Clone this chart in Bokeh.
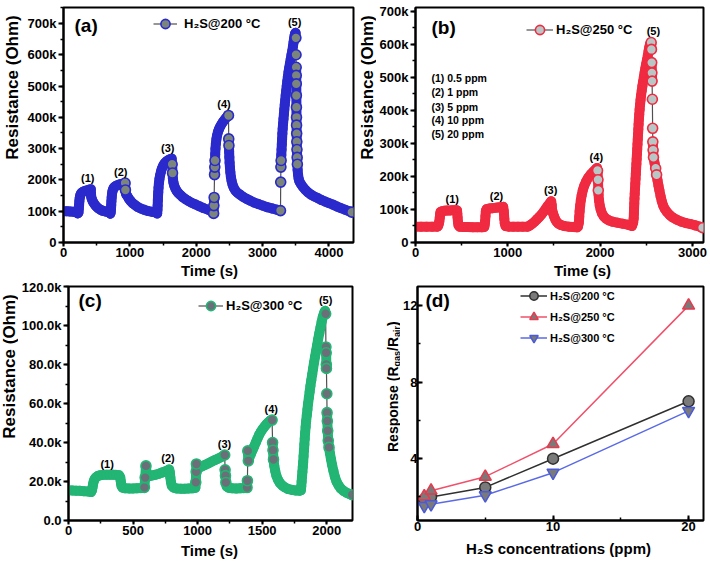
import numpy as np
from bokeh.plotting import figure
from bokeh.layouts import row, column
from bokeh.models import (Range1d, SingleIntervalTicker, NumeralTickFormatter,
                          Label, Legend, LegendItem)
from bokeh.embed import file_html
from bokeh.resources import INLINE
from bokeh.core.properties import value

# ---------------- data (time in s, resistance in kOhm) ----------------
curve_a = [
    (0, 100), (50, 100), (100, 99), (150, 98), (190, 97), (205, 96), (216, 93), (226, 96),
    (231, 108), (235, 120), (239, 132), (244, 142), (251, 150), (261, 156), (277, 160), (300, 163),
    (330, 165), (360, 167), (390, 169), (412, 170),
    (416, 150), (420, 143), (430, 137), (445, 130), (465, 123), (490, 116), (520, 110), (555, 105),
    (595, 101), (640, 99), (680, 97),
    (695, 95), (705, 92), (712, 97), (716, 108), (719, 120), (722, 132), (726, 144), (731, 155),
    (738, 164), (748, 171), (762, 176), (782, 180), (810, 183), (840, 185), (870, 187), (900, 188), (928, 190),
    (933, 168), (937, 160), (945, 154), (963, 148), (985, 140), (1010, 133), (1040, 126), (1075, 120),
    (1115, 114), (1160, 109), (1210, 105), (1270, 101), (1335, 98), (1400, 96),
    (1412, 93), (1416, 105), (1419, 118), (1422, 135), (1425, 150), (1428, 161), (1432, 175), (1438, 190),
    (1446, 203), (1456, 215), (1468, 226), (1482, 236), (1500, 245), (1520, 252), (1545, 258), (1575, 263),
    (1605, 266), (1630, 268), (1637, 250),
    (1643, 222), (1648, 205), (1656, 192), (1668, 182), (1685, 173), (1705, 165), (1730, 158), (1760, 152),
    (1795, 145), (1835, 139), (1880, 133), (1930, 127), (1985, 122), (2045, 116), (2110, 110), (2175, 105), (2240, 100),
    (2262, 93), (2266, 118), (2270, 144), (2276, 217), (2280, 241), (2283, 262), (2286, 282), (2290, 300),
    (2296, 316), (2304, 330), (2314, 342), (2327, 353), (2342, 362), (2360, 370), (2380, 378), (2402, 385),
    (2426, 392), (2452, 399), (2478, 404), (2486, 406),
    (2490, 331), (2493, 310), (2496, 290), (2499, 273), (2503, 255), (2508, 240), (2514, 225), (2522, 210),
    (2533, 197), (2547, 185), (2565, 175), (2590, 166), (2620, 159), (2660, 153), (2705, 146), (2755, 140),
    (2810, 134), (2870, 128), (2935, 123), (3000, 118), (3070, 113), (3140, 109), (3210, 105), (3265, 103),
    (3270, 102), (3273, 193), (3276, 241), (3279, 262), (3282, 280), (3286, 297), (3290, 314), (3294, 331),
    (3298, 348), (3303, 364), (3309, 380), (3315, 395), (3321, 410), (3327, 425), (3334, 440), (3341, 455),
    (3348, 470), (3356, 485), (3364, 500), (3372, 515), (3381, 530), (3391, 545), (3401, 558), (3412, 572),
    (3424, 586), (3436, 600), (3448, 613), (3458, 627), (3467, 640), (3475, 652), (3483, 662), (3491, 668),
    (3497, 670), (3502, 654),
    (3504, 600), (3506, 560), (3507, 534), (3508, 507), (3509, 470), (3510, 432), (3511, 400), (3512, 375),
    (3514, 348), (3516, 322), (3518, 297), (3521, 272), (3524, 250), (3528, 232), (3535, 216), (3543, 204),
    (3555, 195), (3580, 186), (3610, 177), (3645, 168), (3685, 160), (3730, 153), (3780, 147), (3830, 142),
    (3885, 136), (3940, 131), (4000, 126), (4060, 121), (4120, 115), (4180, 110), (4240, 105), (4300, 100), (4345, 97),
]
label_t_a = [365, 862, 1571, 2418, 3483]

curve_b = [
    (0, 48), (60, 48), (120, 48), (180, 48), (235, 48), (245, 50), (252, 56), (258, 64), (263, 75),
    (267, 86), (272, 93), (290, 95), (315, 96), (345, 97), (375, 97), (405, 98), (435, 98), (450, 97),
    (453, 87), (456, 76), (460, 63), (466, 52), (478, 48), (520, 47), (570, 47), (620, 46), (670, 46), (720, 46),
    (745, 47), (750, 55), (754, 65), (758, 80), (762, 95), (770, 101), (800, 103), (830, 104), (860, 105),
    (890, 106), (920, 107), (950, 108), (956, 96), (959, 86), (962, 72), (967, 58), (976, 50), (1010, 48),
    (1060, 48), (1110, 48), (1160, 48), (1215, 48), (1240, 52), (1265, 57), (1290, 63), (1315, 70), (1340, 77),
    (1365, 85), (1390, 94), (1412, 103), (1432, 111), (1452, 118), (1470, 125), (1476, 113), (1479, 101),
    (1488, 90), (1500, 80), (1513, 71), (1528, 63), (1548, 57), (1575, 53), (1610, 50), (1660, 48), (1710, 47),
    (1750, 46), (1760, 48), (1765, 55), (1770, 62), (1774, 78), (1778, 95), (1784, 112), (1791, 128),
    (1800, 143), (1812, 158), (1828, 172), (1848, 185), (1872, 197), (1900, 207), (1928, 215), (1952, 222),
    (1966, 226), (1972, 218), (1977, 190), (1980, 158), (1983, 146), (1988, 128), (1996, 112), (2006, 100),
    (2020, 88), (2040, 79), (2065, 72), (2095, 67), (2135, 63), (2185, 60), (2240, 57), (2300, 54), (2345, 50),
    (2358, 60), (2364, 73), (2366, 88), (2368, 103), (2370, 118), (2372, 133), (2375, 148), (2378, 163),
    (2381, 178), (2384, 193), (2387, 208), (2390, 223), (2393, 238), (2396, 253), (2399, 268), (2402, 283),
    (2405, 298), (2408, 313), (2411, 328), (2414, 343), (2417, 358), (2420, 373), (2424, 388), (2428, 403),
    (2433, 418), (2438, 432), (2444, 446), (2451, 460), (2458, 474), (2466, 488), (2474, 502), (2482, 515),
    (2490, 528), (2499, 541), (2508, 554), (2517, 567), (2525, 580), (2532, 591), (2540, 600), (2548, 605),
    (2553, 606), (2556, 585), (2559, 545), (2561, 514), (2563, 489), (2566, 434), (2569, 346), (2571, 305),
    (2574, 280), (2578, 258), (2590, 240), (2602, 225), (2612, 205), (2622, 188), (2632, 172), (2642, 158),
    (2655, 140), (2668, 125), (2683, 112), (2700, 102), (2725, 92), (2755, 83), (2785, 76), (2830, 69),
    (2880, 63), (2930, 59), (2980, 56), (3030, 52), (3080, 48), (3110, 45),
]
label_t_b = [398, 878, 1464, 1959, 2577]

curve_c = [
    (0, 15.5), (30, 15.4), (60, 15.3), (90, 15.2), (120, 15.0), (150, 14.9), (175, 14.6), (182, 15.5),
    (186, 17.0), (190, 18.5), (195, 20.0), (202, 21.2), (212, 22.1), (225, 22.8), (245, 23.2), (270, 23.4),
    (295, 23.5), (320, 23.5), (345, 23.5), (370, 23.4), (392, 23.2), (401, 22.1), (404, 20.5), (407, 19.0),
    (411, 17.6), (420, 16.8), (440, 16.5), (470, 16.4), (500, 16.4), (530, 16.5), (560, 16.6), (588, 17.0),
    (594, 22.0), (600, 28.0), (604, 25.0), (610, 23.0), (625, 22.8), (650, 23.1), (675, 23.5), (700, 24.0),
    (725, 24.6), (750, 25.2), (772, 25.8), (780, 26.2), (785, 24.7), (789, 22.1), (794, 19.6), (800, 17.8),
    (815, 16.8), (840, 16.4), (870, 16.3), (900, 16.3), (930, 16.4), (960, 16.5), (983, 16.8), (986, 19.6),
    (989, 25.0), (991, 29.0), (995, 26.5), (1010, 27.0), (1035, 27.8), (1060, 28.6), (1085, 29.4), (1110, 30.2),
    (1135, 31.0), (1160, 31.8), (1185, 32.6), (1205, 33.3), (1210, 33.6), (1213, 26.0), (1216, 23.0),
    (1219, 19.5), (1225, 17.5), (1240, 16.8), (1270, 16.5), (1300, 16.4), (1330, 16.5), (1360, 16.6),
    (1383, 16.9), (1386, 20.4), (1389, 35.7), (1393, 30.6), (1400, 32.0), (1412, 34.0), (1425, 36.0),
    (1438, 38.0), (1451, 40.0), (1464, 42.0), (1477, 44.0), (1490, 45.5), (1505, 47.0), (1520, 48.3),
    (1535, 49.5), (1550, 50.5), (1565, 51.3), (1577, 51.5), (1581, 40.0), (1584, 36.0), (1588, 31.3),
    (1594, 28.0), (1601, 25.5), (1610, 23.0), (1622, 21.0), (1637, 19.3), (1655, 18.0), (1675, 17.0),
    (1700, 16.2), (1730, 15.7), (1760, 15.4), (1790, 15.3), (1800, 15.5), (1803, 17.5), (1806, 20.0),
    (1809, 22.5), (1812, 25.0), (1815, 27.5), (1818, 30.0), (1821, 33.0), (1824, 36.0), (1827, 39.0),
    (1830, 42.0), (1833, 45.0), (1837, 48.0), (1841, 51.0), (1846, 54.0), (1851, 57.0), (1856, 60.0),
    (1862, 63.0), (1868, 66.0), (1874, 69.0), (1881, 72.0), (1888, 75.0), (1895, 78.0), (1902, 81.0),
    (1910, 84.0), (1918, 87.0), (1926, 90.0), (1934, 93.0), (1943, 96.0), (1952, 99.0), (1961, 102.0),
    (1970, 104.5), (1980, 106.5), (1988, 107.5), (1992, 106.0), (1994, 89.0), (1996, 86.0), (1997, 80.0),
    (1998, 78.0), (2001, 65.0), (2003, 55.3), (2005, 51.0), (2008, 46.0), (2012, 41.0), (2018, 37.5),
    (2025, 34.5), (2033, 31.5), (2042, 28.5), (2052, 25.5), (2063, 22.5), (2076, 20.0), (2092, 18.0),
    (2110, 16.3), (2130, 15.2), (2155, 14.2), (2180, 13.5), (2198, 13.2),
]
label_t_c = [299, 771, 1208, 1571, 1992]

pulse_labels = ["(1)", "(2)", "(3)", "(4)", "(5)"]
conc_ppm = [0.5, 1, 5, 10, 20]
resp_200 = [1.87, 2.0, 2.5, 4.0, 7.0]
resp_250 = [2.04, 2.33, 3.06, 4.77, 12.0]
resp_300 = [1.53, 1.62, 2.09, 3.27, 6.5]

FONT = "Liberation Sans"
LINE_GRAY = "#505050"
YLAB = "17px"


def style_axes(p, tick_in=False):
    for ax in (p.xaxis[0], p.yaxis[0]):
        ax.axis_line_width = 2
        ax.axis_line_color = "black"
        ax.major_tick_line_width = 2
        ax.minor_tick_line_width = 1.5
        if tick_in:
            ax.major_tick_in, ax.major_tick_out = 5, 0
            ax.minor_tick_in, ax.minor_tick_out = 3, 0
        else:
            ax.major_tick_in, ax.major_tick_out = 0, 5
            ax.minor_tick_in, ax.minor_tick_out = 0, 3
        ax.major_label_text_font = FONT
        ax.major_label_text_font_style = "bold"
        ax.major_label_text_font_size = "13px"
        ax.major_label_text_color = "black"
    if not tick_in:
        p.xaxis[0].major_tick_out = 4
    p.xaxis[0].major_label_standoff = 1
    p.yaxis[0].major_label_standoff = 2


def make_fig(w, h, xr, yr, mbl, mbr, mbt, mbb):
    p = figure(width=w, height=h, x_range=Range1d(*xr), y_range=Range1d(*yr),
               output_backend="svg", toolbar_location=None,
               min_border_left=mbl, min_border_right=mbr,
               min_border_top=mbt, min_border_bottom=mbb)
    p.grid.visible = False
    p.outline_line_color = "black"
    p.outline_line_width = 2
    p.background_fill_color = "white"
    p.border_fill_color = "white"
    return p


def text_fig(w, h):
    f = figure(width=w, height=h, x_range=Range1d(0, 1), y_range=Range1d(0, 1),
               x_axis_type=None, y_axis_type=None, output_backend="svg",
               toolbar_location=None, min_border=0, min_border_left=0,
               min_border_right=0, min_border_top=0, min_border_bottom=0)
    f.outline_line_color = None
    f.background_fill_color = "white"
    f.border_fill_color = "white"
    return f


def add_text(p, txt, x, y, size, align="left", baseline="middle", angle=0.0):
    p.add_layout(Label(x=x, y=y, x_units="screen", y_units="screen", text=txt,
                       text_font=FONT, text_font_style="bold", text_font_size=size,
                       text_color="black", text_align=align, text_baseline=baseline,
                       angle=angle))


def transient_panel(p, curve, label_t, color, fill, legend_txt, leg_x, leg_top, glyph_w,
                    standoff, fw, fh, xr, yr):
    t = np.array([c[0] for c in curve], dtype=float)
    r = np.array([c[1] for c in curve], dtype=float) * 1000.0
    sx = fw / (xr[1] - xr[0])
    sy = fh / (yr[1] - yr[0])
    d = np.hypot(np.diff(t) * sx, np.diff(r) * sy)      # on-screen step between samples
    ln = p.line(t, r, line_color=LINE_GRAY, line_width=1.2)
    close = d <= 12
    # dense samples merge into a solid band of overlapping markers
    p.segment(x0=t[:-1][close], y0=r[:-1][close], x1=t[1:][close], y1=r[1:][close],
              line_color=color, line_width=10, line_cap="round")
    far = d > 6.5
    iso = np.r_[False, far] | np.r_[far, True]
    sc = p.scatter(t[iso], r[iso], marker="circle", size=10,
                   line_color=color, line_width=1.6, fill_color=fill)
    ys = []
    for lt in label_t:
        m = np.abs(t - lt) < 150
        ys.append(r[m].max())
    p.text(x=label_t, y=ys, text=pulse_labels, text_font=value(FONT), text_font_style="bold",
           text_font_size="11px", text_align="center", text_baseline="middle",
           y_offset=-11, text_color="black")
    gh = 23
    leg = Legend(items=[LegendItem(label=legend_txt, renderers=[ln, sc])],
                 location=(leg_x, fh - leg_top - gh), orientation="vertical",
                 border_line_color=None, background_fill_alpha=0, padding=0, margin=0,
                 glyph_width=glyph_w, glyph_height=gh, label_height=gh, label_standoff=standoff,
                 label_text_font=FONT, label_text_font_style="bold", label_text_font_size="13px",
                 label_text_color="black")
    p.add_layout(leg)


# ---------------- geometry (page pixels) ----------------
H_R1, H_X1, H_R2, H_X2 = 262, 17, 262, 19

# ---------------- panel (a) ----------------
xr_a, yr_a = (0, 4370), (0, 751000)
mbt, mbb = 7, 20
pa = make_fig(333, H_R1, xr_a, yr_a, 41, 2, mbt, mbb)
fw_a, fh_a = 333 - 41 - 2, H_R1 - mbt - mbb
style_axes(pa)
pa.xaxis[0].ticker = SingleIntervalTicker(interval=1000, num_minor_ticks=2)
pa.yaxis[0].ticker = SingleIntervalTicker(interval=100000, num_minor_ticks=2)
pa.yaxis[0].formatter = NumeralTickFormatter(format="0a")
transient_panel(pa, curve_a, label_t_a, "#2a2acc", "#7c857c", "H₂S@200 °C", 90, 4.5, 24, 7,
                fw_a, fh_a, xr_a, yr_a)
add_text(pa, "(a)", 11, fh_a - 18, "19px")
lab_a = text_fig(22, H_R1)
add_text(lab_a, "Resistance (Ohm)", 12, H_R1 - 107, YLAB, align="center", angle=np.pi / 2)

# ---------------- panel (b) ----------------
xr_b, yr_b = (0, 3120), (0, 712000)
mbt, mbb = 3, 20
pb = make_fig(333, H_R1, xr_b, yr_b, 38, 6, mbt, mbb)
fw_b, fh_b = 333 - 38 - 6, H_R1 - mbt - mbb
style_axes(pb)
pb.xaxis[0].ticker = SingleIntervalTicker(interval=1000, num_minor_ticks=2)
pb.yaxis[0].ticker = SingleIntervalTicker(interval=100000, num_minor_ticks=2)
pb.yaxis[0].formatter = NumeralTickFormatter(format="0a")
transient_panel(pb, curve_b, label_t_b, "#f02a40", "#b9c6c6", "H₂S@250 °C", 111, 14.5, 27, 3,
                fw_b, fh_b, xr_b, yr_b)
add_text(pb, "(b)", 16, fh_b - 24, "19px")
for i, (c, off) in enumerate(zip(conc_ppm, [74, 88, 103, 116, 130])):
    add_text(pb, f"({i + 1}) {c:g} ppm", 16, fh_b - off, "10.5px")
lab_b = text_fig(21, H_R1)
add_text(lab_b, "Resistance (Ohm)", 12, H_R1 - 107, YLAB, align="center", angle=np.pi / 2)

xl_a = text_fig(355, H_X1)
add_text(xl_a, "Time (s)", 209, H_X1 - 8, "15px", align="center")
xl_b = text_fig(354, H_X1)
add_text(xl_b, "Time (s)", 227, H_X1 - 8, "15px", align="center")

# ---------------- panel (c) ----------------
xr_c, yr_c = (0, 2200), (0, 120000)
mbt, mbb = 7, 21
pc = make_fig(337, H_R2, xr_c, yr_c, 47, 3, mbt, mbb)
fw_c, fh_c = 337 - 47 - 3, H_R2 - mbt - mbb
style_axes(pc)
pc.xaxis[0].ticker = SingleIntervalTicker(interval=500, num_minor_ticks=2)
pc.yaxis[0].ticker = SingleIntervalTicker(interval=20000, num_minor_ticks=2)
pc.yaxis[0].formatter = NumeralTickFormatter(format="0.0a")
transient_panel(pc, curve_c, label_t_c, "#22b574", "#6b7078", "H₂S@300 °C", 130, 7.5, 25, 3,
                fw_c, fh_c, xr_c, yr_c)
add_text(pc, "(c)", 10, fh_c - 14, "19px")
lab_c = text_fig(18, H_R2)
add_text(lab_c, "Resistance (Ohm)", 9, H_R2 - 108, YLAB, align="center", angle=np.pi / 2)

# ---------------- panel (d) ----------------
xr_d, yr_d = (0, 21.1), (0.77, 13.0)
mbt, mbb = 6, 16
pdd = make_fig(309, H_R2, xr_d, yr_d, 15, 6, mbt, mbb)
fh_d = H_R2 - mbt - mbb
style_axes(pdd, tick_in=True)
pdd.xaxis[0].ticker = SingleIntervalTicker(interval=10, num_minor_ticks=2)
pdd.yaxis[0].ticker = SingleIntervalTicker(interval=4, num_minor_ticks=2)
pdd.xaxis[0].major_label_standoff = 1
pdd.yaxis[0].major_label_standoff = 0

series = [
    ("H₂S@200 °C", resp_200, "circle", "#303030", "#303030", 11),
    ("H₂S@250 °C", resp_250, "triangle", "#f0506a", "#e8394d", 12),
    ("H₂S@300 °C", resp_300, "inverted_triangle", "#5a6ae6", "#4a5ad8", 12),
]
items = []
for name, ys, mk, lc, oc, sz in series:
    l = pdd.line(conc_ppm, ys, line_color=lc, line_width=1.5)
    s = pdd.scatter(conc_ppm, ys, marker=mk, size=sz, line_color=oc, line_width=1.5,
                    fill_color="#7a7a7a")
    items.append(LegendItem(label=name, renderers=[l, s]))
leg_d = Legend(items=items, location=(103, fh_d - 68), orientation="vertical",
               border_line_color=None, background_fill_alpha=0, padding=0, margin=0,
               glyph_width=27, glyph_height=21, label_height=21, spacing=0, label_standoff=3,
               label_text_font=FONT, label_text_font_style="bold", label_text_font_size="11px",
               label_text_color="black")
pdd.add_layout(leg_d)
add_text(pdd, "(d)", 8, fh_d - 20, "19px")

# composite y-axis label: Response (R_gas/R_air)
lab_d = text_fig(45, H_R2)
yy = H_R2 - 128 - 65.5
pieces = [("Response (R", "14px", 37, 85.6), ("gas", "9px", 41, 15.5),
          ("/R", "14px", 37, 14.0), ("air", "9px", 41, 11.0), (")", "14px", 37, 4.7)]
for txt, sz, xx, ln_ in pieces:
    add_text(lab_d, txt, xx, yy, sz, align="left", baseline="alphabetic", angle=np.pi / 2)
    yy += ln_

xl_c = text_fig(355, H_X2)
add_text(xl_c, "Time (s)", 209, H_X2 - 9, "15px", align="center")
xl_d = text_fig(354, H_X2)
add_text(xl_d, "H₂S concentrations (ppm)", 203, H_X2 - 7, "15px", align="center")

layout = column(
    row(lab_a, pa, lab_b, pb),
    row(xl_a, xl_b),
    row(lab_c, pc, lab_d, pdd),
    row(xl_c, xl_d),
)
open("out.html", "w").write(file_html(layout, INLINE))
